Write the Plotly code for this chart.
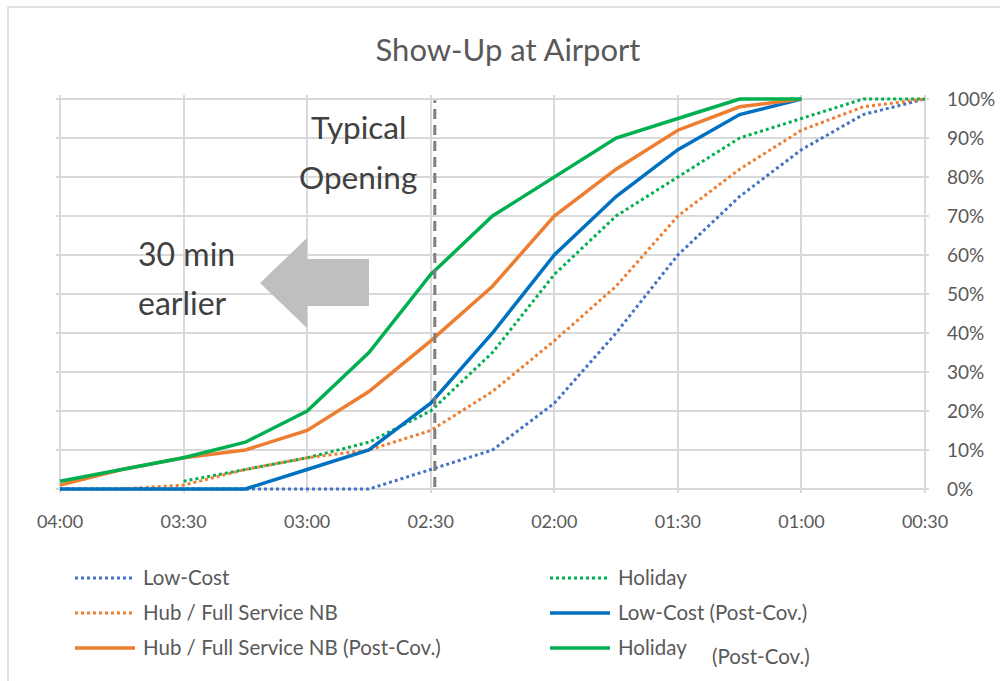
import plotly.graph_objects as go

# Minutes before departure, one point every 15 minutes
minutes = [240, 225, 210, 195, 180, 165, 150, 135, 120, 105, 90, 75, 60, 45, 30]
tick_minutes = [240, 210, 180, 150, 120, 90, 60, 30]
tick_labels = ["04:00", "03:30", "03:00", "02:30", "02:00", "01:30", "01:00", "00:30"]
pct_ticks = [0, 10, 20, 30, 40, 50, 60, 70, 80, 90, 100]
pct_labels = [f"{v}%" for v in pct_ticks]

# Cumulative share of passengers arrived (%)
low_cost = [0, 0, 0, 0, 0, 0, 5, 10, 22, 40, 60, 75, 87, 96, 100]
holiday = [None, None, 2, 5, 8, 12, 20, 35, 55, 70, 80, 90, 95, 100, 100]
hub_full = [None, 0, 1, 5, 8, 10, 15, 25, 38, 52, 70, 82, 92, 98, 100]
low_cost_post = [0, 0, 0, 0, 5, 10, 22, 40, 60, 75, 87, 96, 100, None, None]
hub_full_post = [1, 5, 8, 10, 15, 25, 38, 52, 70, 82, 92, 98, 100, None, None]
holiday_post = [2, 5, 8, 12, 20, 35, 55, 70, 80, 90, 95, 100, 100, None, None]

typical_opening_min = 149

BLUE_LIGHT = "#4472C4"
BLUE = "#0070C0"
ORANGE = "#ED7D31"
GREEN = "#00B050"
GRID = "#D9D9D9"
TEXT = "#595959"
DARK = "#404040"
FONT = "Lato"

series = [
    ("Low-Cost", low_cost, BLUE_LIGHT, "dot"),
    ("Holiday", holiday, GREEN, "dot"),
    ("Hub / Full Service NB", hub_full, ORANGE, "dot"),
    ("Low-Cost (Post-Cov.)", low_cost_post, BLUE, "solid"),
    ("Hub / Full Service NB (Post-Cov.)", hub_full_post, ORANGE, "solid"),
    ("Holiday (Post-Cov.)", holiday_post, GREEN, "solid"),
]

W, H = 1000, 681
# Plot area in pixels: 04:00 at x=60, 00:30 at x=925, 100% at y=99, 0% at y=489
m_l, m_r, m_t, m_b = 56, 71, 95, 188
pw = W - m_l - m_r
ph = H - m_t - m_b
ppm = (925 - 60) / 210.0
ppy = (489 - 99) / 100.0
x_range = [240 + (60 - m_l) / ppm, 30 - ((W - m_r) - 925) / ppm]
y_range = [0 - ((H - m_b) - 489) / ppy, 100 + (99 - m_t) / ppy]


def xp(px):
    return (px - m_l) / pw


def yp(py):
    return (m_t + ph - py) / ph


fig = go.Figure()
for name, vals, color, dash in series:
    fig.add_trace(go.Scatter(
        x=minutes, y=vals, name=name, mode="lines",
        line=dict(color=color, width=3.5 if dash == "solid" else 3, dash=dash),
        connectgaps=False, showlegend=False,
    ))

shapes = []
# Outer chart frame
shapes.append(dict(type="rect", xref="paper", yref="paper",
                   x0=xp(8), x1=xp(1010), y0=yp(7), y1=yp(700),
                   line=dict(color=GRID, width=1.5), fillcolor="rgba(0,0,0,0)", layer="below"))
# Typical opening marker
shapes.append(dict(type="line", xref="x", yref="y",
                   x0=typical_opening_min, x1=typical_opening_min, y0=0.5, y1=99.7,
                   line=dict(color="#7F7F7F", width=3, dash="10px,6px"), layer="above"))
# "30 min earlier" arrow
arrow_pts = [(260, 283), (307, 238), (307, 259), (369, 259), (369, 306), (307, 306), (307, 328)]
path = "M " + " L ".join(f"{xp(a):.5f},{yp(b):.5f}" for a, b in arrow_pts) + " Z"
shapes.append(dict(type="path", xref="paper", yref="paper", path=path,
                   fillcolor="#BFBFBF", line=dict(width=0), layer="above"))

annotations = []


def text(s, px, py, size, color=TEXT, xanchor="left"):
    annotations.append(dict(text=s, xref="paper", yref="paper", x=xp(px), y=yp(py),
                            xanchor=xanchor, yanchor="middle", showarrow=False,
                            font=dict(family=FONT, size=size, color=color)))


text("Typical", 358, 127, 31.5, DARK, "center")
text("Opening", 358, 177, 31.5, DARK, "center")
text("30 min", 136, 253, 32, DARK)
text("earlier", 136, 302, 32, DARK)

# Legend, two columns
legend_rows = [
    (75, 578, "Low-Cost", BLUE_LIGHT, "dot"),
    (75, 613, "Hub / Full Service NB", ORANGE, "dot"),
    (75, 648, "Hub / Full Service NB (Post-Cov.)", ORANGE, "solid"),
    (550, 578, "Holiday", GREEN, "dot"),
    (550, 613, "Low-Cost (Post-Cov.)", BLUE, "solid"),
    (550, 648, "Holiday", GREEN, "solid"),
]
for x0, yy, label, color, dash in legend_rows:
    shapes.append(dict(type="line", xref="paper", yref="paper",
                       x0=xp(x0), x1=xp(x0 + 60), y0=yp(yy), y1=yp(yy),
                       line=dict(color=color, width=3.5 if dash == "solid" else 3, dash=dash)))
    text(label, x0 + 66, yy - 1, 20.5)
text("(Post-Cov.)", 710, 656, 20.5)

fig.update_layout(
    width=W, height=H,
    margin=dict(l=m_l, r=m_r, t=m_t, b=m_b, pad=0, autoexpand=False),
    paper_bgcolor="white", plot_bgcolor="white",
    title=dict(text="Show-Up at Airport", x=508 / W, xref="container", xanchor="center",
               y=1 - 50 / H, yref="container", yanchor="middle",
               font=dict(family=FONT, size=31, color=TEXT)),
    font=dict(family=FONT, color=TEXT),
    shapes=shapes, annotations=annotations,
)
fig.update_xaxes(range=x_range, tickvals=tick_minutes, ticktext=tick_labels,
                 showgrid=True, gridcolor=GRID, gridwidth=2, zeroline=False,
                 showline=False, ticks="", ticklabelstandoff=16, automargin=False,
                 tickfont=dict(family=FONT, size=18, color=TEXT), fixedrange=True)
fig.update_yaxes(range=y_range, side="right", tickvals=pct_ticks, ticktext=pct_labels,
                 showgrid=True, gridcolor=GRID, gridwidth=2, zeroline=False,
                 showline=False, ticks="", ticklabelstandoff=17, automargin=False,
                 tickfont=dict(family=FONT, size=19, color=TEXT), fixedrange=True)

fig.write_html("out.html")
